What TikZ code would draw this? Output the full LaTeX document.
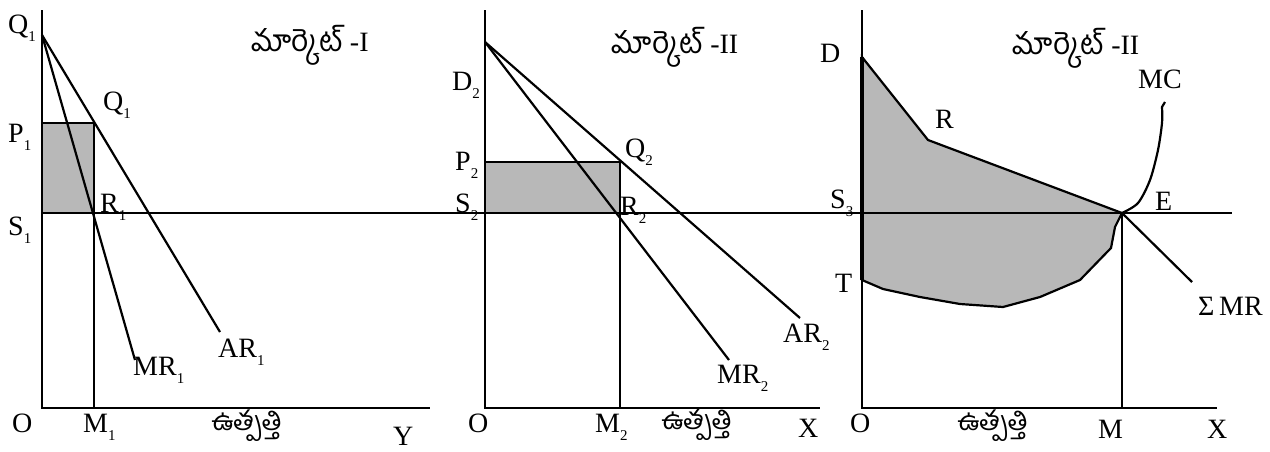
\documentclass[tikz,border=0pt]{standalone}
\usepackage{fontspec}
\setmainfont{Liberation Serif}
\newfontfamily\telugufont[Script=Telugu]{Hind Guntur}

\newcommand{\sbs}[1]{\raisebox{-0.3em}{\fontsize{15}{15}\selectfont #1}}
\newcommand{\mkt}{{\fontsize{30}{34}\selectfont\telugufont మార్కెట్}}
\newcommand{\utpatti}{{\fontsize{27}{30}\selectfont\telugufont ఉత్పత్తి}}

\tikzset{
  axis/.style={line width=2.8pt},
  curve/.style={line width=2.2pt},
  shaded/.style={fill=black!28},
  lbl/.style={font=\fontsize{28}{30}\selectfont, inner sep=0pt, anchor=base west},
  tlbl/.style={font=\fontsize{28}{30}\selectfont, inner sep=0pt},
}

\begin{document}
\begin{tikzpicture}[x=1pt, y=-1pt]
  \useasboundingbox (0,0) rectangle (1270,451);

  % Markt I
  \coordinate (O1) at (42,408);
  \coordinate (top1) at (42,10);
  \coordinate (Y1) at (430,408);
  \coordinate (Q1top) at (42,35);
  \coordinate (P1) at (42,123);
  \coordinate (Q1) at (94,123);
  \coordinate (R1) at (94,213);
  \coordinate (M1) at (94,408);
  \coordinate (MR1) at (135,360);
  \coordinate (AR1) at (220,332);

  % Markt II
  \coordinate (O2) at (485,408);
  \coordinate (top2) at (485,10);
  \coordinate (X2) at (820,408);
  \coordinate (D2) at (485,42);
  \coordinate (P2) at (485,162);
  \coordinate (Q2) at (620,162);
  \coordinate (R2) at (620,213);
  \coordinate (M2) at (620,408);
  \coordinate (MR2) at (729,360);
  \coordinate (AR2) at (800,318);

  % Gesamtmarkt
  \coordinate (O3) at (862,408);
  \coordinate (top3) at (862,10);
  \coordinate (X3) at (1217,408);
  \coordinate (D) at (862,57);
  \coordinate (R) at (928,140);
  \coordinate (E) at (1122,213);
  \coordinate (M) at (1122,408);
  \coordinate (T) at (862,280);
  \coordinate (SMR) at (1192,282);

  % Schraffierte Flächen
  \fill[shaded] (P1) rectangle (R1);
  \fill[shaded] (P2) rectangle (R2);
  \filldraw[shaded, curve] (D) -- (R) -- (E) -- (1115,227) -- (1111,248) -- (1080,280)
    -- (1040,297) -- (1003,307) -- (960,304) -- (920,297) -- (883,289) -- (T) -- cycle;

  % Achsen
  \draw[axis] (top1) -- (O1) -- (Y1);
  \draw[axis] (top2) -- (O2) -- (X2);
  \draw[axis] (top3) -- (O3) -- (X3);
  \draw[line width=4pt] (D) -- (T);

  % S-Linie
  \draw[axis] (42,213) -- (1232,213);

  % Kurven Markt I
  \draw[curve] (Q1top) -- (MR1);
  \draw[curve] (Q1top) -- (AR1);
  \draw[axis] (P1) -- (Q1);
  \draw[axis] (Q1) -- (M1);

  % Kurven Markt II
  \draw[curve] (D2) -- (MR2);
  \draw[curve] (D2) -- (AR2);
  \draw[axis] (P2) -- (Q2);
  \draw[axis] (Q2) -- (M2);

  % Kurven Gesamtmarkt
  \draw[curve] (E) -- (SMR);
  \draw[axis] (E) -- (M);
  \draw[curve] plot[smooth] coordinates {(E) (1138,203) (1150,180) (1158,150) (1162,123) (1162,107)} -- (1165,102);

  % Beschriftung Markt I
  \node[lbl] (lQ1a) at (8,33) {Q\sbs{1}};
  \node[lbl] (lQ1b) at (103,110) {Q\sbs{1}};
  \node[lbl] (lP1) at (8,142) {P\sbs{1}};
  \node[lbl] (lR1) at (100,212) {R\sbs{1}};
  \node[lbl] (lS1) at (8,235) {S\sbs{1}};
  \node[lbl] (lO1) at (12,432) {O};
  \node[lbl] (lM1) at (83,432) {M\sbs{1}};
  \node[lbl] (lMR1) at (133,375) {MR\sbs{1}};
  \node[lbl] (lAR1) at (218,357) {AR\sbs{1}};
  \node[lbl] (lY1) at (393,445) {Y};
  \node[tlbl] (lout1) at (247,426) {\utpatti};
  \node[tlbl] (lmkt1) at (310,45) {\mkt\ -I};

  % Beschriftung Markt II
  \node[lbl] (lD2) at (452,90) {D\sbs{2}};
  \node[lbl] (lP2) at (455,170) {P\sbs{2}};
  \node[lbl] (lQ2) at (625,157) {Q\sbs{2}};
  \node[lbl] (lS2) at (455,212) {S\sbs{2}};
  \node[lbl] (lR2) at (620,215) {R\sbs{2}};
  \node[lbl] (lO2) at (468,432) {O};
  \node[lbl] (lM2) at (595,432) {M\sbs{2}};
  \node[lbl] (lX2) at (798,437) {X};
  \node[lbl] (lMR2) at (717,383) {MR\sbs{2}};
  \node[lbl] (lAR2) at (783,342) {AR\sbs{2}};
  \node[tlbl] (lout2) at (697,425) {\utpatti};
  \node[tlbl] (lmkt2) at (675,47) {\mkt\ -II};

  % Beschriftung Gesamtmarkt
  \node[lbl] (lD) at (820,62) {D};
  \node[lbl] (lR) at (935,128) {R};
  \node[lbl] (lS3) at (830,208) {S\sbs{3}};
  \node[lbl] (lT) at (835,292) {T};
  \node[lbl] (lE) at (1155,210) {E};
  \node[lbl] (lMC) at (1138,88) {MC};
  \node[lbl] (lSMR) at (1198,315) {Σ\,MR};
  \node[lbl] (lO3) at (850,432) {O};
  \node[lbl] (lM) at (1098,438) {M};
  \node[lbl] (lX3) at (1207,438) {X};
  \node[tlbl] (lout3) at (993,426) {\utpatti};
  \node[tlbl] (lmkt3) at (1076,48) {\mkt\ -II};
\end{tikzpicture}
\end{document}
